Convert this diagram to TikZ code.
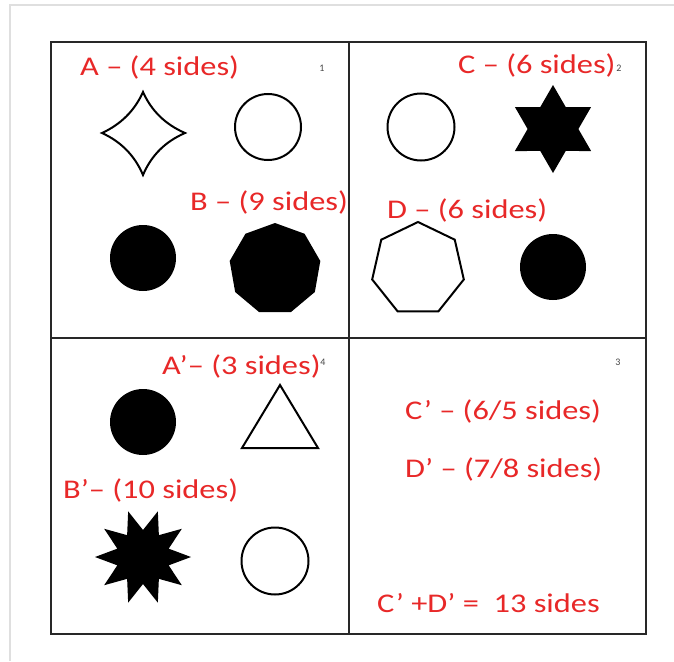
\documentclass[tikz,border=0pt]{standalone}
\usepackage{fontspec}
\usepackage{graphicx}
\setmainfont{Carlito}
\definecolor{lblred}{RGB}{232,40,40}
\definecolor{boxgray}{RGB}{40,40,40}
\definecolor{numgray}{RGB}{70,70,70}
\newcommand{\lbl}[1]{\scalebox{1.2}[1]{#1}}
\tikzset{
  lab/.style={anchor=base west, inner sep=0pt, text=lblred, font=\fontsize{27}{30}\selectfont},
  num/.style={inner sep=0pt, text=numgray, font=\fontsize{10}{11}\selectfont},
  frame/.style={draw=boxgray, line width=2.8pt},
  outline/.style={draw=black, line width=2pt, fill=white, line join=miter},
  solid/.style={fill=black, draw=none}
}
\begin{document}
\begin{tikzpicture}[x=1pt,y=-1pt]
\useasboundingbox (0,0) rectangle (674,661);
\fill[white] (0,0) rectangle (674,661);
% page edge
\draw[gray!25, line width=1.5pt] (10,661) -- (10,5) -- (674,5);
% grid
\draw[frame] (51,42) rectangle (646,634);
\draw[frame] (349,42) -- (349,634);
\draw[frame] (51,338) -- (646,338);
% quadrant 1
\draw[outline] (143,92) .. controls (151.5,111) and (165.5,124.5) .. (185,133)
  .. controls (165.5,141.5) and (151.5,155) .. (143,175)
  .. controls (134.5,155) and (120.5,141.5) .. (102,133)
  .. controls (120.5,124.5) and (134.5,111) .. cycle;
\draw[outline] (268,127) circle (33);
\fill[solid] (143,258) circle (33);
\fill[solid] plot[samples at={0,...,8}] ({275+46*cos(-90+40*\x)},{269+46*sin(-90+40*\x)}) -- cycle;
% quadrant 2
\draw[outline] (421,127) circle (33.5);
\fill[solid] plot[samples at={0,...,11}] ({553+(44-18.6*mod(\x,2))*cos(-90+30*\x)},{129+(44-18.6*mod(\x,2))*sin(-90+30*\x)}) -- cycle;
\draw[outline] plot[samples at={0,...,6}] ({418+47*cos(-90+360/7*\x)},{269+47*sin(-90+360/7*\x)}) -- cycle;
\fill[solid] (553,267) circle (33);
% quadrant 4
\fill[solid] (143,422) circle (33);
\draw[outline] (280,385) -- (318,448) -- (242,448) -- cycle;
\fill[solid] plot[samples at={0,...,19}] ({143+(48-21*mod(\x,2))*cos(18*\x)},{557+(48-21*mod(\x,2))*sin(18*\x)}) -- cycle;
\draw[outline] (275,561) circle (33.5);
% labels
\node[lab] (la) at (80,75) {\lbl{A – (4 sides)}};
\node[lab] (lb) at (190,210) {\lbl{B – (9 sides)}};
\node[lab] (lc) at (458,74) {\lbl{C – (6 sides)}};
\node[lab] (ld) at (387,218) {\lbl{D – (6 sides)}};
\node[lab] (lap) at (162,374) {\lbl{A’– (3 sides)}};
\node[lab] (lbp) at (63,498) {\lbl{B’– (10 sides)}};
\node[lab] (lcp) at (405,419) {\lbl{C’ – (6/5 sides)}};
\node[lab] (ldp) at (405,477) {\lbl{D’ – (7/8 sides)}};
\node[lab] (lsum) at (377,612) {\lbl{C’ +D’ =\ \ 13 sides}};
% small numbers
\node[num] (n1) at (322,68) {1};
\node[num] (n2) at (619,68) {2};
\node[num] (n4) at (323,362) {4};
\node[num] (n3) at (618,362) {3};
\end{tikzpicture}
\end{document}
